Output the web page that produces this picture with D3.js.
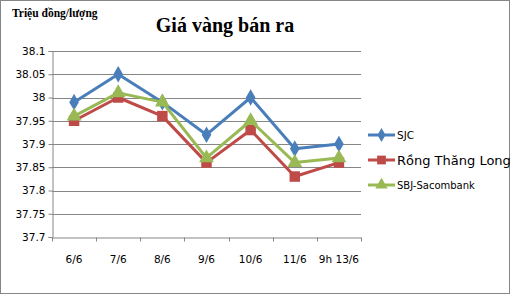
<!DOCTYPE html>
<html>
<head>
<meta charset="utf-8">
<script src="https://cdn.jsdelivr.net/npm/d3@7"></script>
<style>
  body { margin: 0; background: #fff; }
  text { font-family: "DejaVu Sans", Tahoma, sans-serif; }
</style>
</head>
<body>
<div id="chart"></div>
<script>
// data
const days = ["6/6", "7/6", "8/6", "9/6", "10/6", "11/6", "9h 13/6"];
const sjc = [37.99, 38.05, 37.99, 37.92, 38.00, 37.89, 37.90];
const rongThangLong = [37.95, 38.00, 37.96, 37.86, 37.93, 37.83, 37.86];
const sbjSacombank = [37.96, 38.01, 37.99, 37.87, 37.95, 37.86, 37.87];
const yTicks = [37.7, 37.75, 37.8, 37.85, 37.9, 37.95, 38, 38.05, 38.1];

const series = [
  { name: "SJC", values: sjc, color: "#4a7ebb", shape: d3.symbolDiamond, size: 80, font: 10.5 },
  { name: "Rồng Thăng Long", values: rongThangLong, color: "#be4b48", shape: d3.symbolSquare, size: 110, font: 13 },
  { name: "SBJ-Sacombank", values: sbjSacombank, color: "#98b954", shape: d3.symbolTriangle, size: 95, font: 10 }
];

const width = 511, height = 295;
const svg = d3.select("#chart").append("svg").attr("width", width).attr("height", height);

// outer frame
svg.append("rect").attr("x", 0.5).attr("y", 0.5).attr("width", width - 2).attr("height", height - 2)
  .attr("fill", "#fff").attr("stroke", "#868686");

const x = d3.scaleBand().domain(days).range([52, 361]);
const y = d3.scaleLinear().domain([37.7, 38.1]).range([237, 51]);

// gridlines
svg.append("g").selectAll("line").data(yTicks.slice(1)).join("line")
  .attr("x1", 52).attr("x2", 361)
  .attr("y1", d => Math.round(y(d)) + 0.5).attr("y2", d => Math.round(y(d)) + 0.5)
  .attr("stroke", "#868686");

// y axis
const yAxis = svg.append("g").attr("transform", "translate(52.5,0)")
  .call(d3.axisLeft(y).tickValues(yTicks).tickSize(4).tickFormat(d => d3.format("")(+d.toFixed(2))));
yAxis.select(".domain").attr("stroke", "#868686");
yAxis.selectAll(".tick line").attr("stroke", "#868686");
yAxis.selectAll(".tick text").attr("font-size", 10.5).attr("fill", "#000").attr("x", -7);

// x axis
const xAxis = svg.append("g").attr("transform", "translate(0,237.5)")
  .call(d3.axisBottom(x).tickSize(0).tickSizeOuter(0));
xAxis.select(".domain").attr("stroke", "#868686");
xAxis.selectAll(".tick text").attr("font-size", 10.5).attr("fill", "#000").attr("dy", 0).attr("y", 25);
xAxis.selectAll(".edge").data(days.concat([null])).join("line")
  .attr("x1", (d, i) => Math.round(52 + i * x.step()) + 0.5)
  .attr("x2", (d, i) => Math.round(52 + i * x.step()) + 0.5)
  .attr("y1", 0).attr("y2", 4).attr("stroke", "#868686");

const cx = d => x(d) + x.bandwidth() / 2;
const line = d3.line().x((d, i) => cx(days[i])).y(d => y(d));

series.forEach(s => {
  svg.append("path").datum(s.values).attr("d", line)
    .attr("fill", "none").attr("stroke", s.color).attr("stroke-width", 3).attr("stroke-linejoin", "round");
  svg.append("g").selectAll("path").data(s.values).join("path")
    .attr("transform", (d, i) => `translate(${cx(days[i])},${y(d)})`)
    .attr("d", d3.symbol().type(s.shape).size(s.size))
    .attr("fill", s.color);
});

// legend
const legend = svg.append("g").attr("transform", "translate(368,0)");
series.forEach((s, i) => {
  const ly = 135 + i * 25;
  legend.append("line").attr("x1", 0).attr("x2", 27).attr("y1", ly).attr("y2", ly)
    .attr("stroke", s.color).attr("stroke-width", 3);
  legend.append("path").attr("transform", `translate(13.5,${ly})`)
    .attr("d", d3.symbol().type(s.shape).size(s.size * 0.7)).attr("fill", s.color);
  legend.append("text").attr("x", 29).attr("y", ly).attr("dy", "0.35em")
    .attr("font-size", s.font).text(s.name);
});

// titles
svg.append("text").attr("x", 225).attr("y", 32).attr("text-anchor", "middle")
  .style("font-family", "'Liberation Serif', 'Times New Roman', serif")
  .attr("font-weight", "bold").attr("font-size", 20).text("Giá vàng bán ra");
svg.append("text").attr("x", 12).attr("y", 17)
  .style("font-family", "'Liberation Serif', 'Times New Roman', serif")
  .attr("font-weight", "bold").attr("font-size", 11.5).text("Triệu đồng/lượng");
</script>
</body>
</html>
